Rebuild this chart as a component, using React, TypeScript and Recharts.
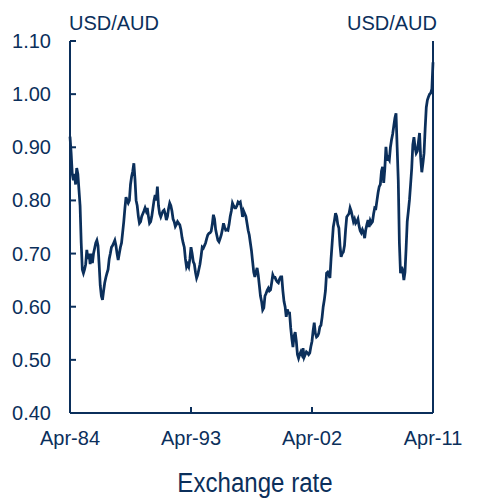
import { LineChart, Line, XAxis, YAxis } from "recharts";

// USD per AUD, monthly from Apr-84 to Apr-11
const y1984 = [0.92, 0.89, 0.85, 0.838, 0.85, 0.83, 0.861, 0.85, 0.82]; // Apr-Dec
const y1985 = [0.79, 0.72, 0.67, 0.663, 0.67, 0.68, 0.707, 0.69, 0.70, 0.68, 0.70, 0.682];
const y1986 = [0.70, 0.71, 0.72, 0.725, 0.715, 0.68, 0.64, 0.62, 0.613, 0.63, 0.645, 0.655];
const y1987 = [0.663, 0.67, 0.69, 0.70, 0.712, 0.715, 0.72, 0.725, 0.715, 0.70, 0.688, 0.70];
const y1988 = [0.712, 0.72, 0.74, 0.76, 0.785, 0.806, 0.80, 0.795, 0.80, 0.83, 0.845, 0.855];
const y1989 = [0.87, 0.84, 0.80, 0.79, 0.77, 0.757, 0.76, 0.77, 0.775, 0.78, 0.786, 0.78];
const y1990 = [0.786, 0.77, 0.757, 0.76, 0.77, 0.785, 0.80, 0.81, 0.80, 0.826, 0.79, 0.775];
const y1991 = [0.769, 0.775, 0.78, 0.782, 0.775, 0.763, 0.77, 0.785, 0.795, 0.79, 0.78, 0.765];
const y1992 = [0.76, 0.751, 0.755, 0.76, 0.757, 0.754, 0.745, 0.73, 0.72, 0.712, 0.69, 0.675];
const y1993 = [0.68, 0.675, 0.69, 0.712, 0.70, 0.685, 0.68, 0.665, 0.654, 0.66, 0.67, 0.68];
const y1994 = [0.695, 0.712, 0.71, 0.715, 0.72, 0.728, 0.735, 0.738, 0.739, 0.742, 0.755, 0.773];
const y1995 = [0.765, 0.745, 0.735, 0.725, 0.722, 0.728, 0.735, 0.745, 0.757, 0.75, 0.744, 0.745];
const y1996 = [0.744, 0.755, 0.77, 0.78, 0.795, 0.79, 0.786, 0.786, 0.79, 0.797, 0.795, 0.797];
const y1997 = [0.785, 0.769, 0.78, 0.775, 0.77, 0.757, 0.744, 0.735, 0.72, 0.705, 0.685, 0.665];
const y1998 = [0.656, 0.665, 0.673, 0.66, 0.64, 0.62, 0.61, 0.594, 0.598, 0.62, 0.625, 0.631];
const y1999 = [0.635, 0.63, 0.632, 0.645, 0.66, 0.655, 0.655, 0.65, 0.647, 0.645, 0.652, 0.656];
const y2000 = [0.656, 0.63, 0.61, 0.60, 0.581, 0.595, 0.588, 0.588, 0.56, 0.54, 0.524, 0.545];
const y2001 = [0.552, 0.535, 0.51, 0.503, 0.51, 0.515, 0.51, 0.522, 0.505, 0.51, 0.515, 0.513];
const y2002 = [0.51, 0.513, 0.525, 0.535, 0.555, 0.57, 0.55, 0.543, 0.545, 0.55, 0.562, 0.565];
const y2003 = [0.58, 0.60, 0.613, 0.63, 0.663, 0.665, 0.66, 0.654, 0.69, 0.72, 0.75, 0.762];
const y2004 = [0.776, 0.77, 0.755, 0.748, 0.715, 0.694, 0.70, 0.703, 0.715, 0.745, 0.769, 0.772];
const y2005 = [0.775, 0.786, 0.78, 0.77, 0.76, 0.765, 0.757, 0.76, 0.765, 0.752, 0.743, 0.739];
const y2006 = [0.745, 0.74, 0.729, 0.745, 0.755, 0.763, 0.75, 0.762, 0.757, 0.76, 0.775, 0.786];
const y2007 = [0.785, 0.80, 0.815, 0.826, 0.83, 0.855, 0.863, 0.833, 0.86, 0.901, 0.875, 0.88];
const y2008 = [0.876, 0.90, 0.914, 0.925, 0.94, 0.955, 0.964, 0.90, 0.838, 0.72, 0.663, 0.675];
const y2009 = [0.668, 0.65, 0.665, 0.71, 0.76, 0.78, 0.801, 0.83, 0.86, 0.905, 0.919, 0.90];
const y2010 = [0.889, 0.893, 0.91, 0.927, 0.88, 0.853, 0.87, 0.889, 0.935, 0.975, 0.989, 0.995];
const y2011 = [1.0, 1.002, 1.01, 1.06]; // Jan-Apr

const rates = [
  ...y1984, ...y1985, ...y1986, ...y1987, ...y1988, ...y1989, ...y1990,
  ...y1991, ...y1992, ...y1993, ...y1994, ...y1995, ...y1996, ...y1997,
  ...y1998, ...y1999, ...y2000, ...y2001, ...y2002, ...y2003, ...y2004,
  ...y2005, ...y2006, ...y2007, ...y2008, ...y2009, ...y2010, ...y2011,
];

const xTicks = [0, 108, 216, 324]; // months since Apr-84
const xLabels = ["Apr-84", "Apr-93", "Apr-02", "Apr-11"];
const yTicks = [0.4, 0.5, 0.6, 0.7, 0.8, 0.9, 1.0, 1.1];

const NAVY = "#0b2f5b";
const FONT = "'Liberation Sans', Arial, sans-serif";

const data = rates.map((v, i) => ({ m: i, v }));

function XTick(props: any) {
  const { x, y, payload } = props;
  const idx = xTicks.indexOf(payload.value);
  return (
    <g>
      <line x1={x} y1={y} x2={x} y2={y - 6} stroke={NAVY} strokeWidth={2} />
      <text x={x} y={y + 32} textAnchor="middle" fill={NAVY} fontSize={20} fontFamily={FONT}>
        {xLabels[idx]}
      </text>
    </g>
  );
}

function YTick(props: any) {
  const { x, y, payload, side } = props;
  const dir = side === "left" ? 1 : -1;
  return (
    <g>
      <line x1={x} y1={y} x2={x + dir * 6} y2={y} stroke={NAVY} strokeWidth={2} />
      <text
        x={side === "left" ? x - 19 : x + 20}
        y={y + 7}
        textAnchor={side === "left" ? "end" : "start"}
        fill={NAVY}
        fontSize={20}
        fontFamily={FONT}
      >
        {payload.value.toFixed(2)}
      </text>
    </g>
  );
}

export default function App() {
  return (
    <div style={{ position: "absolute", left: 0, top: 0, background: "#fff" }}>
      <LineChart width={496} height={499} data={data} margin={{ top: 41, right: 0, left: 0, bottom: 0 }}>
        <XAxis
          dataKey="m"
          type="number"
          domain={[0, 324]}
          ticks={xTicks}
          height={86}
          tickSize={0}
          tickMargin={0}
          axisLine={{ stroke: NAVY, strokeWidth: 2 }}
          tickLine={false}
          tick={<XTick />}
          interval={0}
          label={{
            content: () => (
              // condensed title, like a narrow face
              <text
                transform="translate(255,492) scale(0.86,1)"
                textAnchor="middle"
                fill={NAVY}
                fontSize={28}
                fontFamily={FONT}
              >
                Exchange rate
              </text>
            ),
          }}
        />
        <YAxis
          yAxisId="left"
          orientation="left"
          width={70}
          domain={[0.4, 1.1]}
          ticks={yTicks}
          interval={0}
          tickSize={0}
          tickMargin={0}
          axisLine={{ stroke: NAVY, strokeWidth: 2 }}
          tickLine={false}
          tick={<YTick side="left" />}
          label={{
            content: (p: any) => (
              <text x={p.viewBox.x + p.viewBox.width - 1} y={p.viewBox.y - 11} fill={NAVY} fontSize={20} fontFamily={FONT}>
                USD/AUD
              </text>
            ),
          }}
        />
        <YAxis
          yAxisId="right"
          orientation="right"
          width={63}
          domain={[0.4, 1.1]}
          ticks={yTicks}
          interval={0}
          tickSize={0}
          tickMargin={0}
          axisLine={{ stroke: NAVY, strokeWidth: 2 }}
          tickLine={false}
          tick={<YTick side="right" />}
          label={{
            content: (p: any) => (
              <text x={p.viewBox.x + 4} y={p.viewBox.y - 11} textAnchor="end" fill={NAVY} fontSize={20} fontFamily={FONT}>
                USD/AUD
              </text>
            ),
          }}
        />
        <Line
          yAxisId="left"
          type="linear"
          dataKey="v"
          stroke={NAVY}
          strokeWidth={2.75}
          dot={false}
          isAnimationActive={false}
        />
      </LineChart>
    </div>
  );
}
